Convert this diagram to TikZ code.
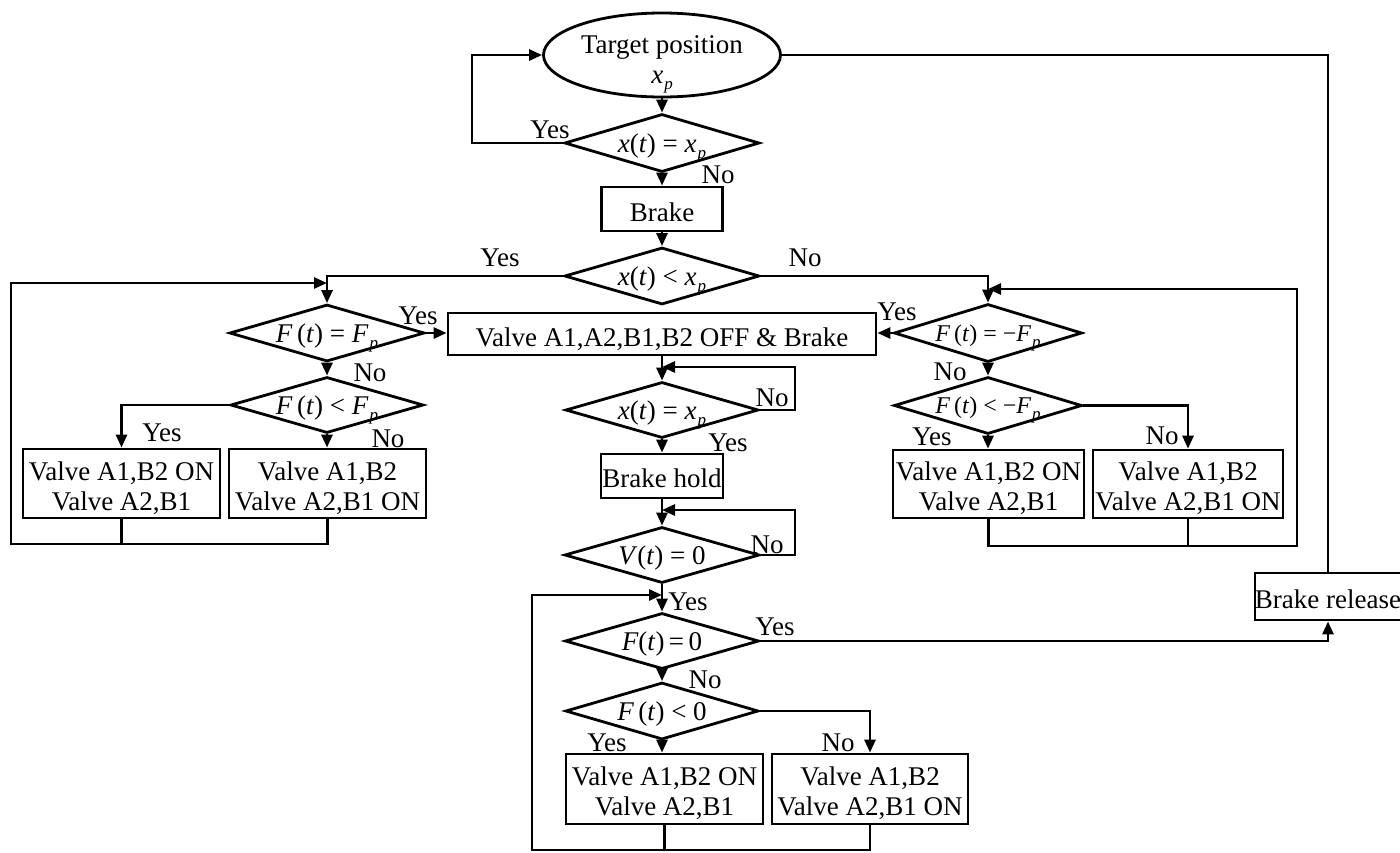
\documentclass[tikz,border=0pt]{standalone}
\usepackage{fontspec}
\setmainfont{Liberation Serif}
\usetikzlibrary{shapes.geometric,arrows.meta}
% italic variable, lowered subscript p
\newcommand\iv[1]{\textit{#1}}
\newcommand\subp{\kern1pt\raisebox{-0.25em}{\fontsize{17}{17}\selectfont\textit{p}}}
% zero-size, centred content lifted by #1
\newcommand\zc[2]{\raisebox{#1}[0pt][0pt]{\makebox[0pt]{#2}}}
% two centred lines, baseline of the first line
\newcommand\two[2]{\vtop{\baselineskip=30pt\halign{\hfil##\hfil\cr#1\cr#2\cr}}}
\begin{document}
\begin{tikzpicture}[x=1pt,y=-1pt,line width=2.8pt,
  font=\fontsize{27}{30}\selectfont,
  arr/.style={-{Triangle[length=13pt,width=11pt]}},
  box/.style={draw,rectangle,inner sep=0pt},
  dec/.style={draw,diamond,inner sep=0pt},
  lbl/.style={inner sep=0pt}]
\useasboundingbox (0,0) rectangle (1400,852);

% ---- central column ----
\node[draw,ellipse,inner sep=0pt,minimum width=237pt,minimum height=84pt] (tgt) at (662,55)
  {\zc{2pt}{\two{Target position}{\iv{x}\subp}}};
\node[dec,minimum width=195pt,minimum height=58pt] (d1) at (662,143)
  {\zc{-9pt}{\iv{x}(\iv{t}) =\ \iv{x}\subp}};
\node[box,minimum width=121pt,minimum height=44pt] (brake) at (662,209)
  {\zc{-12pt}{Brake}};
\node[dec,minimum width=195pt,minimum height=57pt] (d2) at (662,276)
  {\zc{-9pt}{\iv{x}(\iv{t}) <\ \iv{x}\subp}};
\node[box,minimum width=428pt,minimum height=42pt] (big) at (662,334)
  {\zc{-12pt}{Valve A1,A2,B1,B2 OFF \& Brake}};
\node[dec,minimum width=193pt,minimum height=56pt] (d3) at (662,410)
  {\zc{-9pt}{\iv{x}(\iv{t}) =\ \iv{x}\subp}};
\node[box,minimum width=122pt,minimum height=44pt] (hold) at (662,476)
  {\zc{-11pt}{Brake hold}};
\node[dec,minimum width=195pt,minimum height=56pt] (d4) at (662,555)
  {\zc{-9pt}{\iv{V}(\iv{t}) = 0}};
\node[dec,minimum width=194pt,minimum height=56pt] (d5) at (662,641)
  {\zc{-9pt}{\iv{F}(\iv{t})\,=\,0}};
\node[dec,minimum width=193pt,minimum height=57pt] (d6) at (662,711)
  {\zc{-9pt}{\iv{F}\,(\iv{t}) < 0}};
\node[box,minimum width=197pt,minimum height=70pt] (b5) at (664.5,789)
  {\zc{4pt}{\two{Valve A1,B2 ON}{Valve A2,B1}}};
\node[box,minimum width=196pt,minimum height=70pt] (b6) at (870,789)
  {\zc{4pt}{\two{Valve A1,B2}{Valve A2,B1 ON}}};

% ---- left branch ----
\node[dec,minimum width=195pt,minimum height=57pt] (d7) at (327,333)
  {\zc{-9pt}{\iv{F}\,(\iv{t}) = \iv{F}\subp}};
\node[dec,minimum width=193pt,minimum height=56pt] (d8) at (327,405)
  {\zc{-9pt}{\iv{F}\,(\iv{t}) < \iv{F}\subp}};
\node[box,minimum width=197pt,minimum height=69pt] (b1) at (121.5,483.5)
  {\zc{3.5pt}{\two{Valve A1,B2 ON}{Valve A2,B1}}};
\node[box,minimum width=197pt,minimum height=69pt] (b2) at (327.5,483.5)
  {\zc{3.5pt}{\two{Valve A1,B2}{Valve A2,B1 ON}}};

% ---- right branch ----
\node[dec,minimum width=188pt,minimum height=58pt] (d9) at (988,333)
  {\zc{-8pt}{\fontsize{24}{27}\selectfont\iv{F}\,(\iv{t}) = −\iv{F}\subp}};
\node[dec,minimum width=188pt,minimum height=57pt] (d10) at (988,405.5)
  {\zc{-8pt}{\fontsize{24}{27}\selectfont\iv{F}\,(\iv{t}) < −\iv{F}\subp}};
\node[box,minimum width=191pt,minimum height=68pt] (b3) at (988.5,484)
  {\zc{4pt}{\two{Valve A1,B2 ON}{Valve A2,B1}}};
\node[box,minimum width=190pt,minimum height=68pt] (b4) at (1188,484)
  {\zc{4pt}{\two{Valve A1,B2}{Valve A2,B1 ON}}};

\node[box,minimum width=146pt,minimum height=47pt] (rel) at (1328,596.5)
  {\zc{-11.5pt}{Brake release}};

% ---- connectors ----
\coordinate (c1) at (472,55);
\draw[arr] (tgt.south) -- (d1.north);
\draw[arr] (d1.west) -| (c1) -- (tgt.west);
\draw[arr] (d1.south) -- (brake.north);
\draw[arr] (brake.south) -- (d2.north);
\draw[arr] (d2.west) -| (d7.north);
\draw[arr] (d2.east) -| (d9.north);
\draw[arr] (d7.east) -- (d7.east -| big.west);
\draw[arr] (d9.west) -- (d9.west -| big.east);

\draw[arr] (d7.south) -- (d8.north);
\draw[arr] (d8.west) -| (b1.north);
\draw[arr] (d8.south) -- (d8.south |- b2.north);
\coordinate (lb) at (11,544);
\coordinate (lt) at (11,283);
\draw[arr] (b2.south) |- (lb) -- (lt) -- (d7.north |- lt);
\draw (b1.south) -- (b1.south |- lb);

\draw[arr] (d9.south) -- (d10.north);
\draw[arr] (d10.south) -- (d10.south |- b3.north);
\draw[arr] (d10.east) -| (b4.north);
\coordinate (rb) at (1297,546);
\coordinate (rt) at (1297,289);
\draw[arr] (b3.south) |- (rb) -- (rt) -- (d9.north |- rt);
\draw (b4.south) -- (b4.south |- rb);

\draw[arr] (big.south) -- (d3.north);
\coordinate (k3) at (795,367);
\draw[arr] (d3.east) -| (k3) -- (d3.north |- k3);
\draw[arr] (d3.south) -- (hold.north);
\draw[arr] (hold.south) -- (d4.north);
\coordinate (k4) at (795,510);
\draw[arr] (d4.east) -| (k4) -- (d4.north |- k4);
\draw[arr] (d4.south) -- (d5.north);
\draw[arr] (d5.south) -- (d6.north);
\draw[arr] (d6.south) -- (d6.south |- b5.north);
\draw[arr] (d6.east) -| (b6.north);
\coordinate (kb) at (532,850);
\coordinate (kt) at (532,595);
\draw[arr] (b6.south) |- (kb) -- (kt) -- (d5.north |- kt);
\draw (b5.south) -- (b5.south |- kb);

\draw[arr] (d5.east) -| (rel.south);
\draw (tgt.east) -| (rel.north);

% ---- branch labels ----
\node[lbl] (l1) at (550,130) {Yes};
\node[lbl] (l2) at (718,175) {No};
\node[lbl] (l3) at (500,258) {Yes};
\node[lbl] (l4) at (805,258) {No};
\node[lbl] (l5) at (418,316) {Yes};
\node[lbl] (l6) at (370,373) {No};
\node[lbl] (l7) at (162,433) {Yes};
\node[lbl] (l8) at (388,439) {No};
\node[lbl] (l9) at (897,312) {Yes};
\node[lbl] (l10) at (950,372) {No};
\node[lbl] (l11) at (932,437) {Yes};
\node[lbl] (l12) at (1162,436) {No};
\node[lbl] (l13) at (772,398) {No};
\node[lbl] (l14) at (728,443) {Yes};
\node[lbl] (l15) at (767,545) {No};
\node[lbl] (l16) at (688,602) {Yes};
\node[lbl] (l17) at (775,627) {Yes};
\node[lbl] (l18) at (705,680) {No};
\node[lbl] (l19) at (607,743) {Yes};
\node[lbl] (l20) at (838,743) {No};
\end{tikzpicture}
\end{document}
